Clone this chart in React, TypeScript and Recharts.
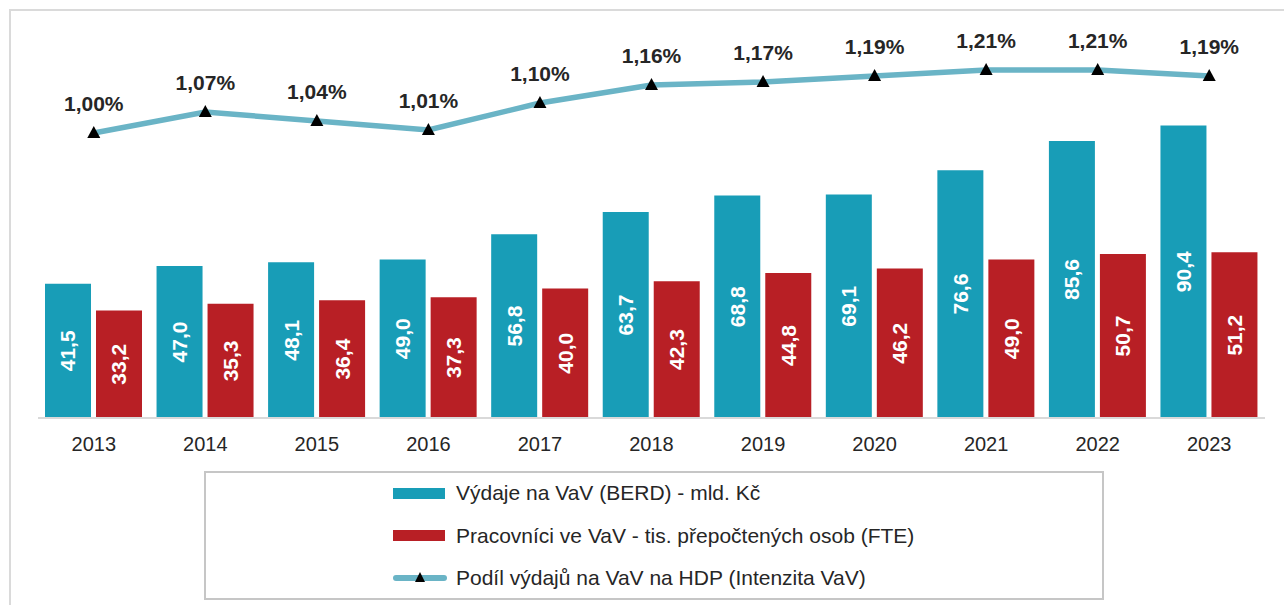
import { Bar, ComposedChart, LabelList, Line, XAxis, YAxis } from "recharts";

const years = ["2013", "2014", "2015", "2016", "2017", "2018", "2019", "2020", "2021", "2022", "2023"];
const berd = [41.5, 47.0, 48.1, 49.0, 56.8, 63.7, 68.8, 69.1, 76.6, 85.6, 90.4];
const fte = [33.2, 35.3, 36.4, 37.3, 40.0, 42.3, 44.8, 46.2, 49.0, 50.7, 51.2];
const intensity = [1.0, 1.07, 1.04, 1.01, 1.1, 1.16, 1.17, 1.19, 1.21, 1.21, 1.19];

const seriesNames = [
    "Výdaje na VaV (BERD) - mld. Kč",
    "Pracovníci ve VaV - tis. přepočtených osob (FTE)",
    "Podíl výdajů na VaV na HDP (Intenzita VaV)",
];

const TEAL = "#189db7";
const RED = "#b81f25";
const LINE = "#6ab4c6";
const FONT = "'Liberation Sans', Arial, sans-serif";

const data = years.map((year, i) => ({
    year,
    berd: berd[i],
    fte: fte[i],
    intensity: intensity[i],
}));

const comma = (v: number, digits: number) => v.toFixed(digits).replace(".", ",");

function BarValue(props: any) {
    const { x, y, width, height, value } = props;
    const cx = x + width / 2;
    const cy = y + height / 2;
    return (
        <text
            x={cx}
            y={cy}
            transform={`rotate(-90, ${cx}, ${cy})`}
            textAnchor="middle"
            dominantBaseline="central"
            fill="#ffffff"
            fontWeight="bold"
            fontSize={21}
            fontFamily={FONT}
        >
            {comma(value, 1)}
        </text>
    );
}

function Triangle(props: any) {
    const { cx, cy } = props;
    if (cx == null || cy == null) return null;
    return <path d={`M${cx},${cy - 7} L${cx + 6.5},${cy + 5} L${cx - 6.5},${cy + 5} Z`} fill="#000000" />;
}

function LegendIcon({ index }: { index: number }) {
    if (index === 2) {
        return (
            <svg width={54} height={14} style={{ display: "block" }}>
                <line x1={3} y1={7} x2={51} y2={7} stroke={LINE} strokeWidth={6} strokeLinecap="round" />
                <path d="M27,1 L32,11 L22,11 Z" fill="#000000" />
            </svg>
        );
    }
    return <div style={{ width: 52, height: 11, marginRight: 2, background: index === 0 ? TEAL : RED }} />;
}

export default function App() {
    return (
        <div style={{ position: "relative", width: 1284, height: 605, overflow: "hidden", fontFamily: FONT }}>
            <style>{"body{margin:0;overflow:hidden}"}</style>
            <div
                style={{
                    position: "absolute",
                    left: 9,
                    top: 9,
                    width: 1320,
                    height: 640,
                    border: "2px solid #dadada",
                }}
            />
            <div style={{ position: "absolute", left: 0, top: 0 }}>
                <ComposedChart
                    width={1284}
                    height={605}
                    data={data}
                    barSize={46}
                    barGap={5}
                    margin={{ top: 20, right: 19, left: 38, bottom: 157 }}
                >
                    <XAxis
                        dataKey="year"
                        axisLine={{ stroke: "#d9d9d9", strokeWidth: 2 }}
                        tickLine={false}
                        tickMargin={13}
                        tick={{ fill: "#262626", fontSize: 20, fontFamily: FONT }}
                        height={30}
                    />
                    <YAxis yAxisId="bars" hide domain={[0, 123]} allowDataOverflow />
                    <YAxis yAxisId="share" hide orientation="right" domain={[0.05, 1.3767]} allowDataOverflow />
                    <Bar yAxisId="bars" dataKey="berd" fill={TEAL} isAnimationActive={false}>
                        <LabelList dataKey="berd" content={<BarValue />} />
                    </Bar>
                    <Bar yAxisId="bars" dataKey="fte" fill={RED} isAnimationActive={false}>
                        <LabelList dataKey="fte" content={<BarValue />} />
                    </Bar>
                    <Line
                        yAxisId="share"
                        dataKey="intensity"
                        type="linear"
                        stroke={LINE}
                        strokeWidth={5.5}
                        dot={<Triangle />}
                        activeDot={false}
                        isAnimationActive={false}
                    >
                        <LabelList
                            dataKey="intensity"
                            position="top"
                            offset={22}
                            formatter={(v: any) => comma(Number(v), 2) + "%"}
                            style={{ fill: "#262626", fontWeight: "bold", fontSize: 21, fontFamily: FONT }}
                        />
                    </Line>
                </ComposedChart>
            </div>
            <div
                style={{
                    position: "absolute",
                    left: 204,
                    top: 471,
                    width: 896,
                    height: 125,
                    border: "2px solid #c6c6c6",
                    background: "#ffffff",
                }}
            >
                {seriesNames.map((name, i) => (
                    <div
                        key={name}
                        style={{
                            position: "absolute",
                            left: 187,
                            top: 20 + i * 42.5 - 12,
                            height: 24,
                            display: "flex",
                            alignItems: "center",
                        }}
                    >
                        <LegendIcon index={i} />
                        <span style={{ marginLeft: 9, fontSize: 21, color: "#262626", whiteSpace: "nowrap" }}>{name}</span>
                    </div>
                ))}
            </div>
        </div>
    );
}
